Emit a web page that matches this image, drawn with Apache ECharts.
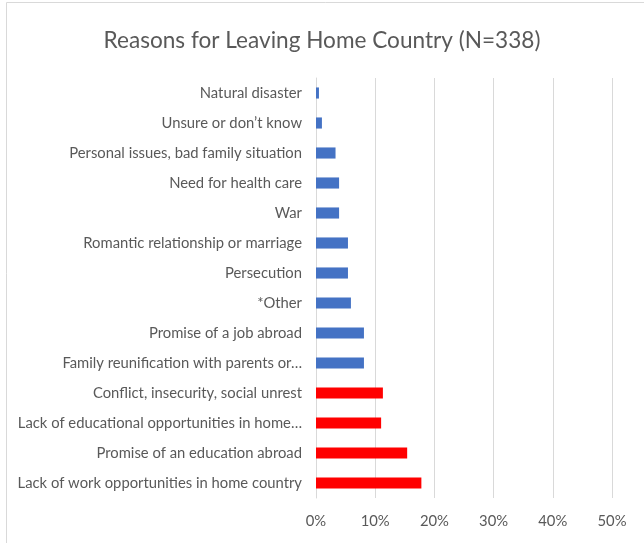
<!DOCTYPE html>
<html>
<head>
<meta charset="utf-8">
<script src="https://cdn.jsdelivr.net/npm/echarts@6/dist/echarts.min.js"></script>
<style>html,body{margin:0;padding:0;background:#fff}#c{width:644px;height:543px}</style>
</head>
<body>
<div id="c"></div>
<script>
// bottom to top
const categories = [
  "Lack of work opportunities in home country",
  "Promise of an education abroad",
  "Lack of educational opportunities in home…",
  "Conflict, insecurity, social unrest",
  "Family reunification with parents or…",
  "Promise of a job abroad",
  "*Other",
  "Persecution",
  "Romantic relationship or marriage",
  "War",
  "Need for health care",
  "Personal issues, bad family situation",
  "Unsure or don’t know",
  "Natural disaster"
];
const values = [17.8, 15.4, 11.0, 11.3, 8.1, 8.1, 5.9, 5.4, 5.4, 3.9, 3.9, 3.3, 1.0, 0.5];
const highlighted = [true, true, true, true, false, false, false, false, false, false, false, false, false, false];
const tickLabels = ["0%", "10%", "20%", "30%", "40%", "50%"];

const chart = echarts.init(document.getElementById('c'), null, {renderer: 'canvas'});
const font = "Lato, 'Noto Sans', sans-serif";
chart.setOption({
  animation: false,
  title: {
    text: "Reasons for Leaving Home Country (N=338)",
    left: 'center', top: 24,
    textStyle: {fontFamily: font, fontSize: 22.6, fontWeight: 'normal', color: '#595959'}
  },
  graphic: [{
    type: 'rect', shape: {x: 6.5, y: 2.5, width: 700, height: 700},
    style: {fill: 'none', stroke: '#d9d9d9', lineWidth: 1}, silent: true
  }],
  grid: {left: 316, right: 32, top: 78, bottom: 45, containLabel: false},
  xAxis: {
    type: 'value', min: 0, max: 50, interval: 10,
    axisLine: {show: false}, axisTick: {show: false},
    splitLine: {lineStyle: {color: '#d9d9d9', width: 1}},
    axisLabel: {
      formatter: v => tickLabels[Math.round(v / 10)],
      color: '#595959', fontFamily: font, fontSize: 14.8, margin: 16
    }
  },
  yAxis: {
    type: 'category', data: categories,
    axisLine: {show: true, lineStyle: {color: '#d9d9d9'}},
    axisTick: {show: false},
    axisLabel: {color: '#595959', fontFamily: font, fontSize: 14.8, margin: 14}
  },
  series: [{
    type: 'bar', data: values, barWidth: '37%',
    itemStyle: {color: p => highlighted[p.dataIndex] ? '#FF0000' : '#4472C4'}
  }]
});
</script>
</body>
</html>
